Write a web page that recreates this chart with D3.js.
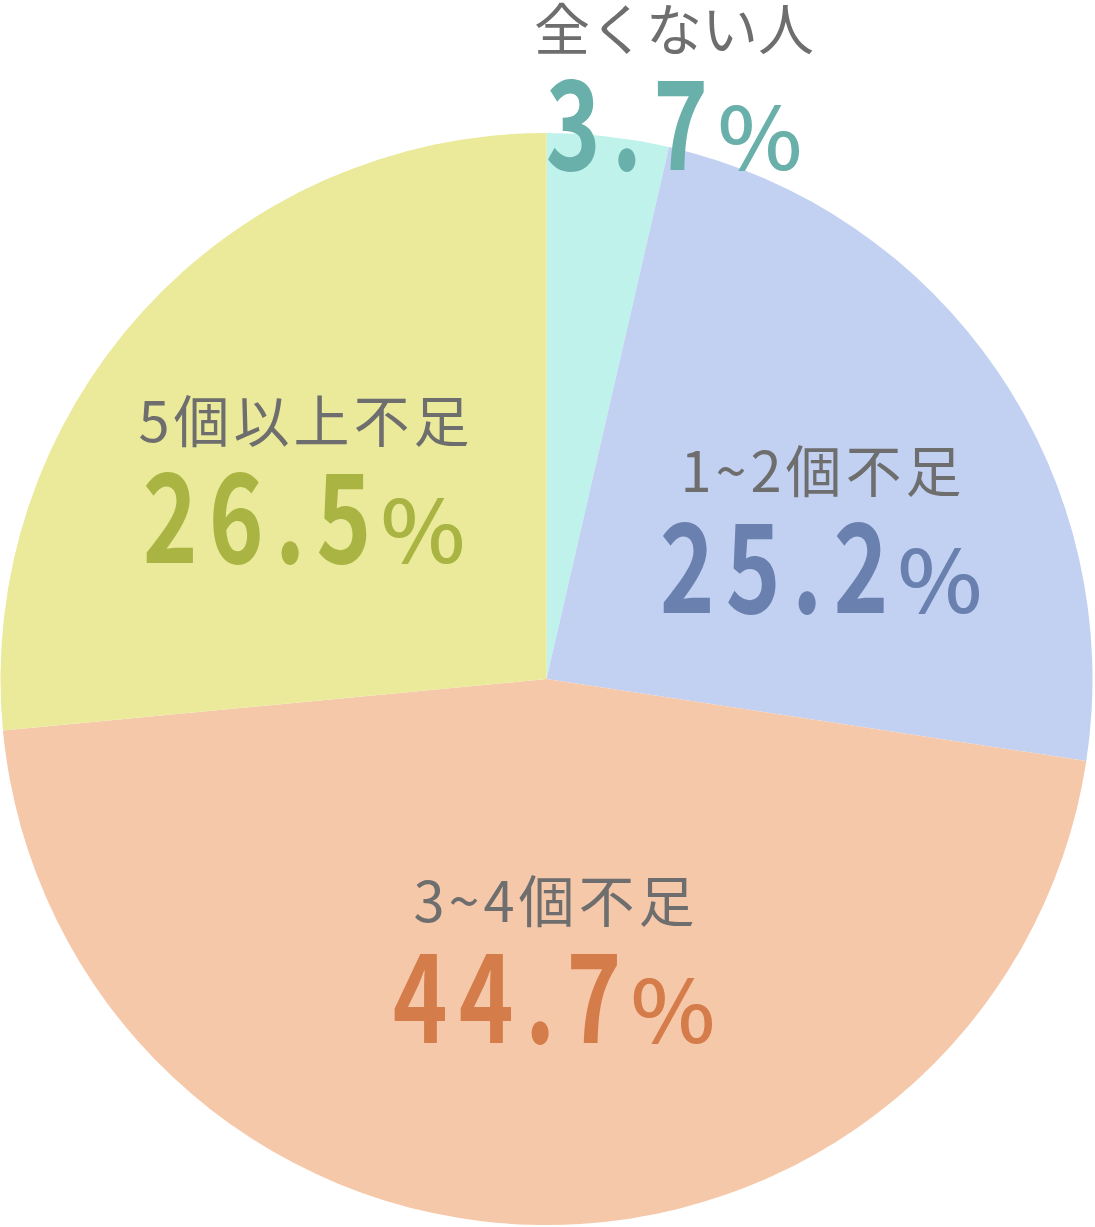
<!DOCTYPE html>
<html>
<head>
<meta charset="utf-8">
<script src="https://cdn.jsdelivr.net/npm/d3@7"></script>
<style>
  html, body { margin: 0; padding: 0; background: #ffffff; }
  svg { display: block; }
</style>
</head>
<body>
<svg id="chart" width="1095" height="1227"></svg>
<script>
// ---- data ----
const categories = ["全くない人", "1~2個不足", "3~4個不足", "5個以上不足"];
const percentValues = ["3.7", "25.2", "44.7", "26.5"];
// slice shares as drawn in the picture (angles measured)
const sliceShares = [3.6, 23.8, 46.1, 26.5];

// ---- styles / layout ----
const sliceColors = ["#c0f2ec", "#c2d1f2", "#f6c8aa", "#eaea9a"];
const percentColors = ["#6ab0aa", "#6a80ae", "#d57c4b", "#a9b443"];
const labelColor = "#6e6e6e";
const cx = 546.5, cy = 679, R = 546;
// label block anchors: [center x, label baseline, percent baseline, label letter-spacing]
const labelLayout = [
  [674, 50, 170, 0],
  [821, 492, 613, 4],
  [554, 922, 1043, 4],
  [304, 442, 563, 4]
];

const svg = d3.select("#chart");
const g = svg.append("g").attr("transform", `translate(${cx},${cy})`);

const pie = d3.pie().sort(null).value(d => d);
const arc = d3.arc().innerRadius(0).outerRadius(R);
const arcs = pie(sliceShares);

g.selectAll("path.slice")
  .data(arcs)
  .join("path")
  .attr("class", "slice")
  .attr("d", arc)
  .attr("fill", (d, i) => sliceColors[i]);

const fontFam = "'Noto Sans CJK JP', 'Noto Sans', sans-serif";

// category labels
categories.forEach((c, i) => {
  const [x, yl, , ls] = labelLayout[i];
  const t = svg.append("text")
    .attr("font-family", fontFam)
    .attr("font-size", 56)
    .attr("font-weight", 400)
    .attr("letter-spacing", ls)
    .attr("fill", labelColor)
    .attr("y", yl)
    .text(c);
  const w = t.node().getComputedTextLength() - ls;
  t.attr("x", x - w / 2);
});

// percent labels
percentValues.forEach((p, i) => {
  const [x, , yp] = labelLayout[i];
  const sD = 0.75, lsD = 15;
  const grp = svg.append("g");
  const dg = grp.append("g");
  const dt = dg.append("text")
    .attr("font-family", fontFam)
    .attr("font-size", 124)
    .attr("font-weight", 600)
    .attr("letter-spacing", lsD)
    .attr("fill", percentColors[i])
    .text(p);
  const wD = dt.node().getComputedTextLength() * sD;
  const pg = grp.append("g");
  const pctT = pg.append("text")
    .attr("font-family", fontFam)
    .attr("font-size", 86)
    .attr("font-weight", 500)
    .attr("fill", percentColors[i])
    .text("%");
  const sP = 1.05;
  const wP = pctT.node().getComputedTextLength() * sP;
  const gap = -2;
  const total = wD + gap + wP;
  const x0 = x - total / 2;
  dg.attr("transform", `translate(${x0},${yp}) scale(${sD},1)`);
  pg.attr("transform", `translate(${x0 + wD + gap},${yp}) scale(${sP},1)`);
});
</script>
</body>
</html>
